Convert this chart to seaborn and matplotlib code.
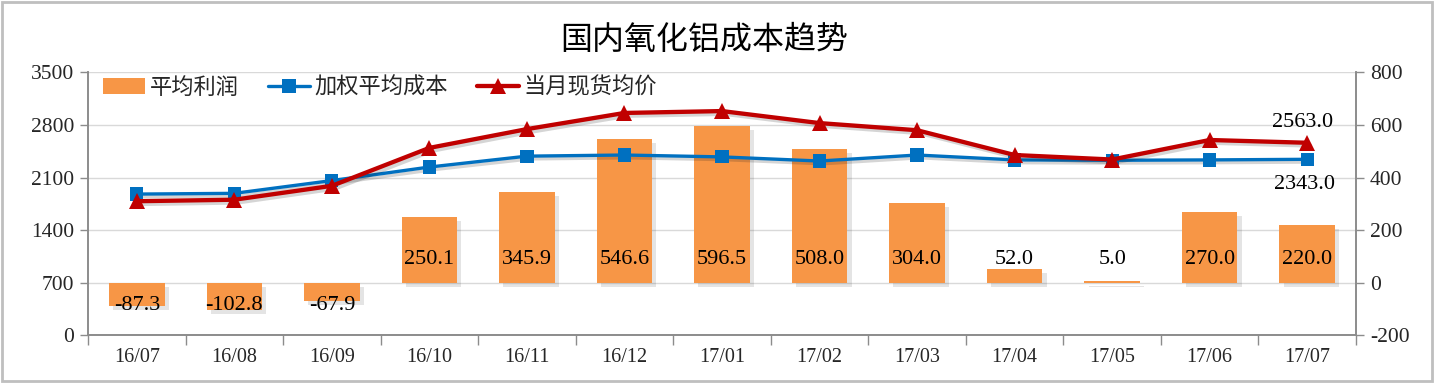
import numpy as np
import pandas as pd
import matplotlib
matplotlib.use("Agg")
import matplotlib.pyplot as plt
import matplotlib.patheffects as pe
from matplotlib.patches import Rectangle, Patch
from matplotlib.lines import Line2D
import seaborn as sns

categories = ['16/07', '16/08', '16/09', '16/10', '16/11', '16/12', '17/01',
              '17/02', '17/03', '17/04', '17/05', '17/06', '17/07']
profit = [-87.3, -102.8, -67.9, 250.1, 345.9, 546.6, 596.5, 508.0, 304.0, 52.0, 5.0, 270.0, 220.0]
cost = [1880, 1890, 2060, 2240, 2385, 2400, 2375, 2320, 2400, 2335, 2330, 2335, 2343]
price = [1785, 1805, 1990, 2495, 2745, 2960, 2985, 2825, 2730, 2400, 2340, 2600, 2563]
left_ticks = [0, 700, 1400, 2100, 2800, 3500]
right_ticks = [-200, 0, 200, 400, 600, 800]

sns.set_theme(style="white")
plt.rcParams['font.family'] = ['Noto Sans CJK SC', 'DejaVu Sans']
plt.rcParams['axes.unicode_minus'] = False
SERIF = ['Liberation Serif', 'DejaVu Serif']

ORANGE = '#F79646'
BLUE = '#0070C0'
RED = '#C00000'
GRAY = '#8C8C8C'

df = pd.DataFrame({'cat': categories, 'profit': profit, 'cost': cost,
                   'price': price, 'idx': np.arange(len(categories))})

fig = plt.figure(figsize=(14.34, 3.83), dpi=100)
ax = fig.add_axes([0.0614, 0.1245, 0.8842, 0.6865])
ax2 = ax.twinx()

# bars on right axis (bottom layer)
sns.barplot(data=df, x='idx', y='profit', color=ORANGE, width=0.57, saturation=1,
            ax=ax2, native_scale=True)
for p in ax2.patches:
    p.set_path_effects([pe.SimplePatchShadow(offset=(3, -3), alpha=0.14, shadow_rgbFace='#404040'),
                        pe.Normal()])
    p.set_edgecolor('none')

for i, v in enumerate(profit):
    yy = 87 if v >= 0 else -87
    ax2.text(i, yy, f'{v:.1f}', ha='center', va='center', fontsize=16,
             family=SERIF, color='black', zorder=5)

shadow = [pe.SimpleLineShadow(offset=(2, -2), alpha=0.18), pe.Normal()]
sns.lineplot(data=df, x='idx', y='cost', color=BLUE, lw=2.4, marker='s',
             markersize=9.5, markeredgewidth=0, ax=ax, path_effects=shadow)
sns.lineplot(data=df, x='idx', y='price', color=RED, lw=3.1, marker='^',
             markersize=11.5, markeredgewidth=0, ax=ax, path_effects=shadow)

last = len(categories) - 1
ax.annotate(f'{price[-1]:.1f}', (last, price[-1]), xytext=(-3, 8), textcoords='offset points',
            ha='center', va='bottom', fontsize=16, family=SERIF, color='black')
ax.annotate(f'{cost[-1]:.1f}', (last, cost[-1]), xytext=(-2, -11), textcoords='offset points',
            ha='center', va='top', fontsize=16, family=SERIF, color='black')

ax.set_zorder(ax2.get_zorder() + 1)
ax.patch.set_visible(False)
ax2.patch.set_visible(True)
ax2.patch.set_facecolor('white')

ax.set_ylim(0, 3500)
ax2.set_ylim(-200, 800)
ax.set_yticks(left_ticks)
ax2.set_yticks(right_ticks)
ax.set_xlim(-0.5, len(categories) - 0.5)
ax2.set_xlim(-0.5, len(categories) - 0.5)

ax2.grid(axis='y', color='#D9D9D9', lw=1)
ax2.set_axisbelow(True)
ax.grid(False)
ax2.grid(axis='x', visible=False)

ax.set_xticks(np.arange(-0.5, len(categories), 1.0))
ax.set_xticklabels([])
ax.set_xticks(np.arange(len(categories)), minor=True)
ax.set_xticklabels(categories, minor=True, fontsize=14.5, family=SERIF)
ax.tick_params(axis='x', which='major', direction='out', length=7, color=GRAY, width=1, bottom=True)
ax.tick_params(axis='x', which='minor', length=0, pad=9)
ax2.tick_params(axis='x', which='both', bottom=False, labelbottom=False)

ax.tick_params(axis='y', direction='out', length=6, color=GRAY, width=1, left=True, pad=4)
ax2.tick_params(axis='y', direction='out', length=6, color=GRAY, width=1, right=True, pad=4)
for lab in ax.get_yticklabels():
    lab.set_fontfamily(SERIF); lab.set_fontsize(15.5)
for lab in ax2.get_yticklabels():
    lab.set_fontfamily(SERIF); lab.set_fontsize(15.5)

ax.set_xlabel(''); ax.set_ylabel(''); ax2.set_xlabel(''); ax2.set_ylabel('')

for a in (ax, ax2):
    a.spines['top'].set_visible(False)
    for s in ('left', 'right', 'bottom'):
        a.spines[s].set_color(GRAY)
        a.spines[s].set_linewidth(1.2)

for a in (ax, ax2):
    if a.get_legend() is not None:
        a.get_legend().remove()
handles = [Patch(facecolor=ORANGE, edgecolor='none'),
           Line2D([], [], color=BLUE, lw=2.4, marker='s', markersize=9.5, markeredgewidth=0),
           Line2D([], [], color=RED, lw=3.1, marker='^', markersize=11.5, markeredgewidth=0)]
labels = ['平均利润', '加权平均成本', '当月现货均价']
ax.legend(handles, labels, ncol=3, frameon=False, loc='center left',
          bbox_to_anchor=(103 / 1434, 1 - 87 / 383), bbox_transform=fig.transFigure,
          borderaxespad=0, borderpad=0, handlelength=1.9, handletextpad=0.2,
          columnspacing=1.3, prop={'family': ['Noto Sans CJK SC', 'DejaVu Sans'], 'size': 16})

fig.text(0.491, 1 - 40 / 383, '国内氧化铝成本趋势', ha='center', va='center', fontsize=23,
         family=['Noto Sans CJK SC', 'DejaVu Sans'], color='black')

fig.patches.append(Rectangle((0.0015, 0.006), 0.997, 0.988, transform=fig.transFigure,
                             fill=False, edgecolor='#BFBFBF', lw=2))

fig.savefig('out.png', dpi=100)
